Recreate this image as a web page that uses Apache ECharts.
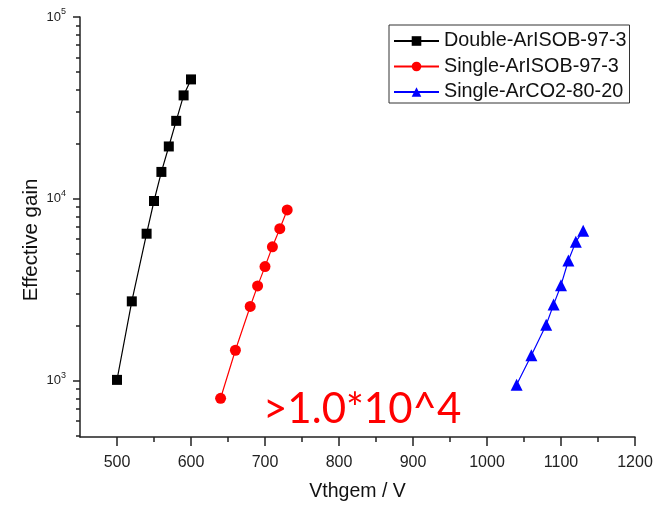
<!DOCTYPE html>
<html>
<head>
<meta charset="utf-8">
<script src="https://cdn.jsdelivr.net/npm/echarts@6/dist/echarts.min.js"></script>
<style>
  html, body { margin: 0; padding: 0; background: #fff; }
  #chart { width: 659px; height: 507px; }
</style>
</head>
<body>
<div id="chart"></div>
<script>
// Gas-gain curves: effective gain vs. GEM voltage
const seriesNames = ['Double-ArISOB-97-3', 'Single-ArISOB-97-3', 'Single-ArCO2-80-20'];

const doubleIsobV = [500, 520, 540, 550, 560, 570, 580, 590, 600];
const doubleIsobGain = [1010, 2730, 6430, 9730, 14060, 19410, 26850, 37060, 45370];

const singleIsobV = [640, 660, 680, 690, 700, 710, 720, 730];
const singleIsobGain = [800, 1470, 2560, 3320, 4240, 5450, 6850, 8690];

const singleCo2V = [1040, 1060, 1080, 1090, 1100, 1110, 1120, 1130];
const singleCo2Gain = [950, 1380, 2030, 2620, 3350, 4580, 5800, 6680];

// Axis ticks
const xMajorTicks = [500, 600, 700, 800, 900, 1000, 1100, 1200];
const xMinorTicks = [550, 650, 750, 850, 950, 1050, 1150];
const yMajorTicks = [1000, 10000, 100000];
const yMinorTicks = [500, 600, 700, 800, 900,
  2000, 3000, 4000, 5000, 6000, 7000, 8000, 9000,
  20000, 30000, 40000, 50000, 60000, 70000, 80000, 90000];

const annotation = '>1.0*10^4';

const pairs = (xs, ys) => xs.map((x, i) => [x, ys[i]]);

const axisColor = '#222';
const font = 'Liberation Sans, Arial, sans-serif';

const chart = echarts.init(document.getElementById('chart'), null, { renderer: 'canvas' });

chart.setOption({
  backgroundColor: '#fff',
  animation: false,
  grid: { left: 80, right: 24, top: 17, bottom: 66 },
  legend: {
    orient: 'vertical',
    left: 389,
    top: 25,
    padding: [6, 3, 1, 4],
    borderColor: '#333',
    borderWidth: 1,
    itemWidth: 45,
    itemHeight: 12,
    itemGap: 5.5,
    textStyle: { fontFamily: font, fontSize: 19.8, color: '#111', lineHeight: 20 },
    data: seriesNames
  },
  xAxis: [
    {
      type: 'value',
      min: 450,
      max: 1200,
      name: 'Vthgem / V',
      nameLocation: 'middle',
      nameGap: 45,
      nameTextStyle: { fontFamily: font, fontSize: 19.5, color: '#111' },
      axisLine: { show: true, lineStyle: { color: axisColor, width: 1.5 } },
      axisTick: { show: true, inside: false, length: 9, customValues: xMajorTicks, lineStyle: { color: axisColor, width: 1.5 } },
      axisLabel: {
        customValues: xMajorTicks,
        margin: 18,
        formatter: v => String(v),
        fontFamily: font, fontSize: 16, color: '#222'
      },
      splitLine: { show: false }
    },
    {
      type: 'value',
      min: 450,
      max: 1200,
      position: 'bottom',
      axisLine: { show: false },
      axisTick: { show: true, inside: false, length: 5, customValues: xMinorTicks, lineStyle: { color: axisColor, width: 1.5 } },
      axisLabel: { show: false },
      splitLine: { show: false }
    }
  ],
  yAxis: [
    {
      type: 'log',
      logBase: 10,
      min: 490,
      max: 100000,
      name: 'Effective gain',
      nameLocation: 'middle',
      nameGap: 38,
      nameMoveOverlap: false,
      nameRotate: 90,
      nameTextStyle: { fontFamily: font, fontSize: 20.5, color: '#111', padding: [0, 26, 0, 0] },
      axisLine: { show: true, lineStyle: { color: axisColor, width: 1.5 } },
      axisTick: { show: true, inside: false, length: 7, customValues: yMajorTicks, lineStyle: { color: axisColor, width: 1.5 } },
      axisLabel: {
        customValues: yMajorTicks,
        margin: 14,
        formatter: v => '{b|10}{s|' + Math.round(Math.log10(v)) + '}',
        rich: {
          b: { fontFamily: font, fontSize: 13, color: '#222' },
          s: { fontFamily: font, fontSize: 9, color: '#222', padding: [0, 0, 10, 0] }
        }
      },
      splitLine: { show: false }
    },
    {
      type: 'log',
      logBase: 10,
      min: 490,
      max: 100000,
      position: 'left',
      axisLine: { show: false },
      axisTick: { show: true, inside: false, length: 4, customValues: yMinorTicks, lineStyle: { color: axisColor, width: 1.5 } },
      axisLabel: { show: false },
      splitLine: { show: false }
    }
  ],
  graphic: [
    {
      type: 'text',
      left: 263,
      top: 388,
      style: {
        text: annotation,
        fill: '#ff0000',
        font: '42px Lato, "Open Sans", sans-serif'
      }
    }
  ],
  series: [
    {
      name: seriesNames[0],
      type: 'line',
      data: pairs(doubleIsobV, doubleIsobGain),
      symbol: 'rect',
      symbolSize: 10,
      color: '#000',
      lineStyle: { width: 1.2, color: '#000' },
      itemStyle: { color: '#000' }
    },
    {
      name: seriesNames[1],
      type: 'line',
      data: pairs(singleIsobV, singleIsobGain),
      symbol: 'circle',
      symbolSize: 11,
      color: '#ff0000',
      lineStyle: { width: 1.2, color: '#ff0000' },
      itemStyle: { color: '#ff0000' }
    },
    {
      name: seriesNames[2],
      type: 'line',
      data: pairs(singleCo2V, singleCo2Gain),
      symbol: 'triangle',
      symbolSize: 12,
      color: '#0000ff',
      lineStyle: { width: 1.2, color: '#0000ff' },
      itemStyle: { color: '#0000ff' }
    }
  ]
});
</script>
</body>
</html>
